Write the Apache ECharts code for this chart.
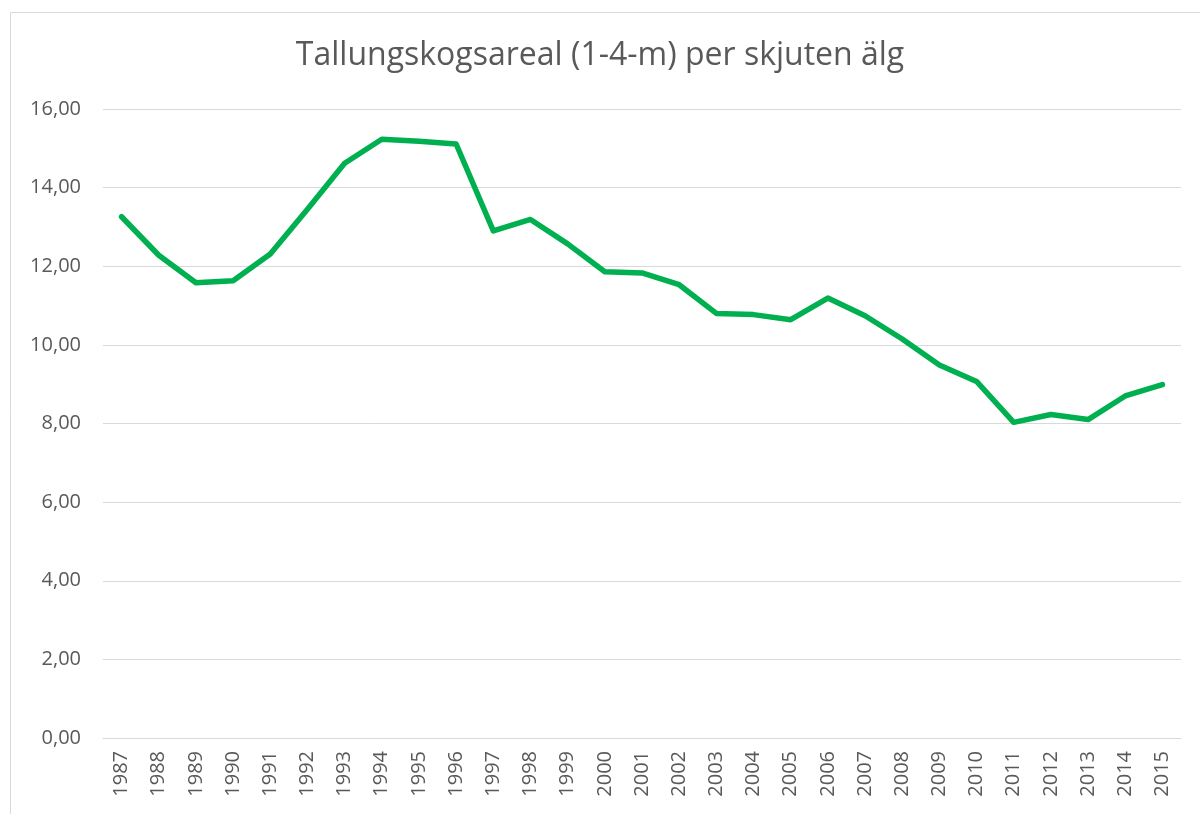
<!DOCTYPE html>
<html>
<head>
<meta charset="utf-8">
<script src="https://cdn.jsdelivr.net/npm/echarts@6/dist/echarts.min.js"></script>
<style>html,body{margin:0;padding:0;background:#fff}#c{width:1200px;height:814px}</style>
</head>
<body>
<div id="c"></div>
<script>
const titleText = 'Tallungskogsareal (1-4-m) per skjuten älg';
const years = ['1987','1988','1989','1990','1991','1992','1993','1994','1995','1996','1997','1998','1999','2000','2001','2002','2003','2004','2005','2006','2007','2008','2009','2010','2011','2012','2013','2014','2015'];
const values = [13.26,12.28,11.58,11.63,12.31,13.45,14.62,15.23,15.18,15.11,12.90,13.19,12.57,11.86,11.83,11.53,10.80,10.77,10.64,11.19,10.74,10.15,9.49,9.07,8.03,8.23,8.10,8.70,8.99];

const chart = echarts.init(document.getElementById('c'));
chart.setOption({
  animation: false,
  backgroundColor: '#fff',
  graphic: [{
    type: 'rect', left: 8, top: 10, shape: {width: 1300, height: 900},
    style: {fill: 'none', stroke: '#d9d9d9', lineWidth: 1}, silent: true, z: -1
  }],
  title: {
    text: titleText, left: 'center', top: 35,
    textStyle: {fontFamily: 'Open Sans', fontSize: 32, fontWeight: 'normal', color: '#595959'}
  },
  grid: {left: 103, right: 19, top: 109, bottom: 76, containLabel: false},
  xAxis: {
    type: 'category', data: years, boundaryGap: true,
    axisLine: {lineStyle: {color: '#d9d9d9'}}, axisTick: {show: false},
    axisLabel: {rotate: 90, color: '#595959', fontFamily: 'Open Sans', fontSize: 20, margin: 13, interval: 0}
  },
  yAxis: {
    type: 'value', min: 0, max: 16, interval: 2,
    axisLine: {show: false}, axisTick: {show: false},
    splitLine: {lineStyle: {color: '#d9d9d9', width: 1}},
    axisLabel: {color: '#595959', fontFamily: 'Open Sans', fontSize: 20, margin: 22,
      formatter: v => v.toFixed(2).replace('.', ',')}
  },
  series: [{
    type: 'line', data: values, symbol: 'none',
    lineStyle: {color: '#00b050', width: 5.5, join: 'round', cap: 'round'}
  }]
});
</script>
</body>
</html>
